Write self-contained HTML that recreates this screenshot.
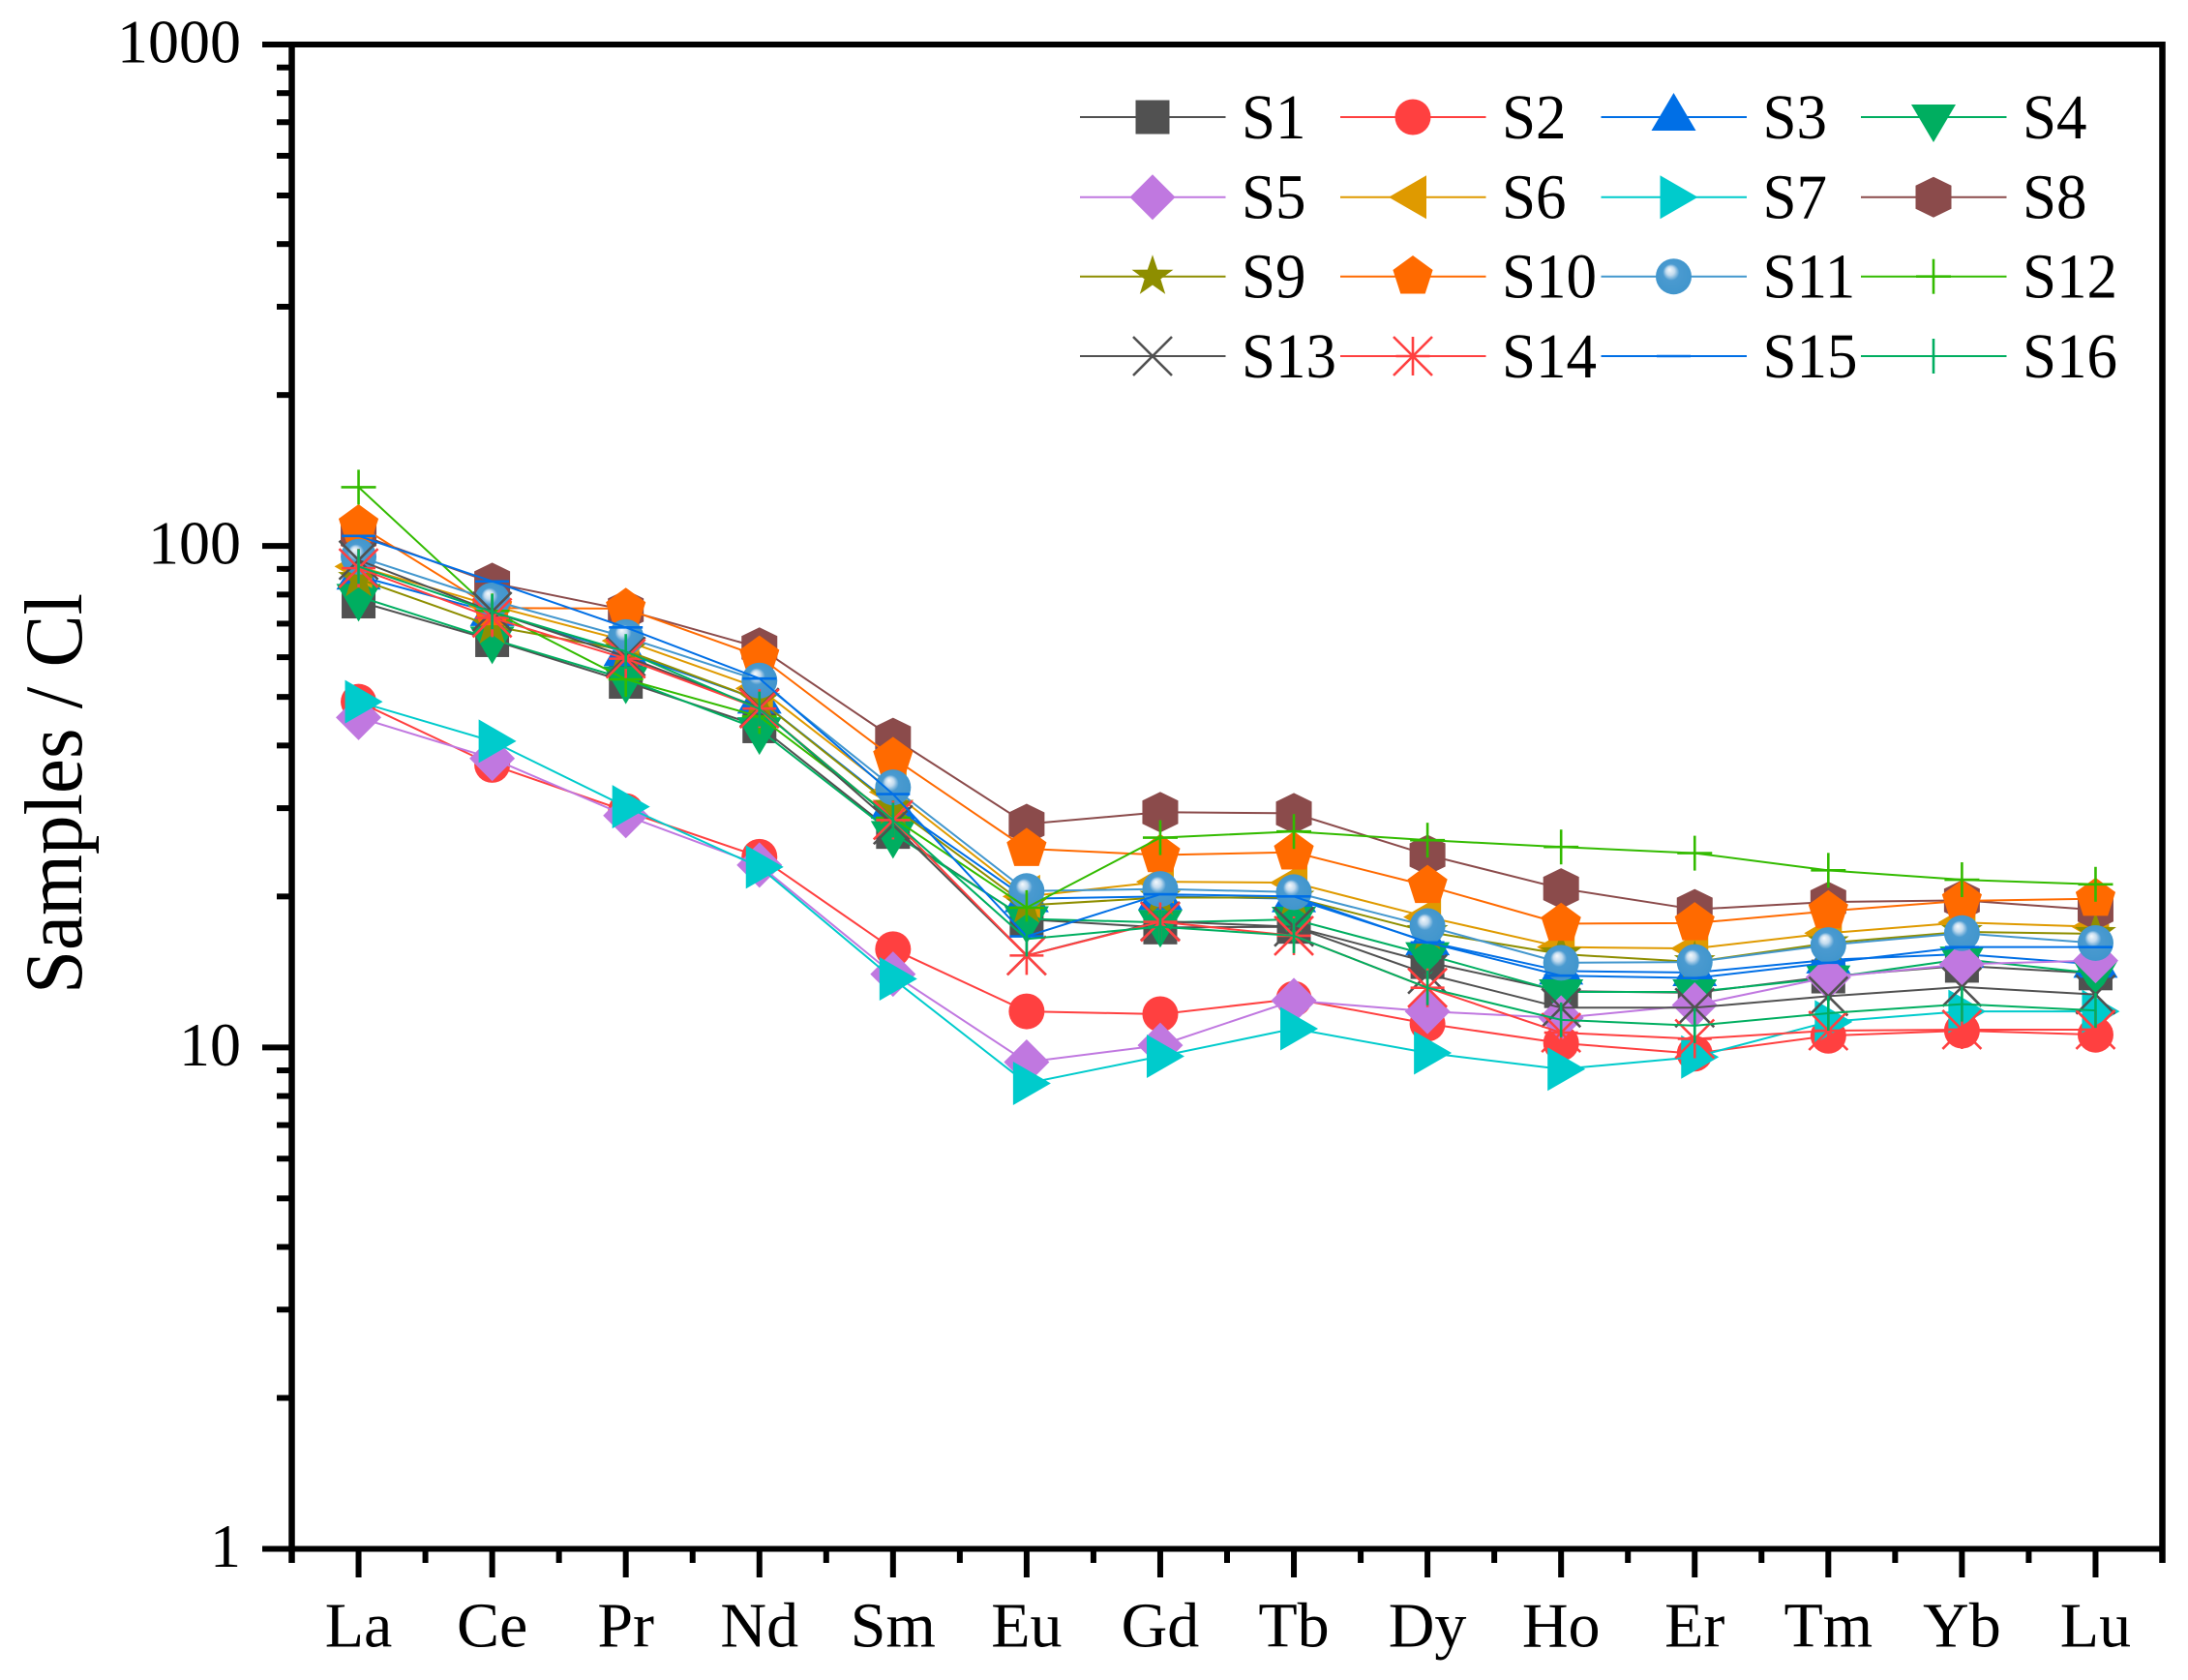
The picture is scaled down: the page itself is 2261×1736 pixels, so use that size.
<!DOCTYPE html>
<html lang="en">
<head>
<meta charset="utf-8">
<title>REE patterns</title>
<style>
html,body{margin:0;padding:0;background:#fff;}
svg{display:block;}
text{font-family:"Liberation Serif","Times New Roman",serif;fill:#000;}
</style>
</head>
<body>
<svg id="chart" xmlns="http://www.w3.org/2000/svg" width="2261" height="1736" viewBox="0 0 2261 1736">
<defs>
<radialGradient id="ball" cx="50%" cy="50%" r="55%" fx="38%" fy="30%">
<stop offset="0" stop-color="#f6fafd"/>
<stop offset="0.22" stop-color="#c3dbee"/>
<stop offset="0.42" stop-color="#4a9ad0"/>
<stop offset="1" stop-color="#4095cc"/>
</radialGradient>
</defs>
<rect x="0" y="0" width="2261" height="1736" fill="#fff"/>
<g id="axes"></g>
<g id="plot"></g>
<g id="legend"></g>
<text transform="translate(84,1027) rotate(-90)" font-size="85" textLength="414" lengthAdjust="spacingAndGlyphs">Samples / Cl</text>
</svg>
<script>
const categories = ["La","Ce","Pr","Nd","Sm","Eu","Gd","Tb","Dy","Ho","Er","Tm","Yb","Lu"];
const yMajorTicks = [1,10,100,1000];
const yMinorMultipliers = [2,3,4,5,6,7,8,9];
const seriesNames = ["S1","S2","S3","S4","S5","S6","S7","S8","S9","S10","S11","S12","S13","S14","S15","S16"];
const s1  = [77.5,64.9,53.6,43.7,26.9,18,17.35,17.4,14.8,12.95,12.85,13.85,14.55,14.05];
const s2  = [48.9,36.6,29.6,24,15.7,11.8,11.65,12.5,11.15,10.2,9.72,10.55,10.8,10.6];
const s3  = [87.1,73.7,61.3,49.3,30.4,19.8,20,19.8,16.25,14.2,14.1,14.95,15.35,14.65];
const s4  = [79.3,65.2,54.3,43,26.7,18.05,17.75,18,15.3,12.9,12.9,13.75,15,14.05];
const s5  = [45.5,37.7,29,23.1,14,9.35,10.1,12.4,11.8,11.45,12.15,13.8,14.65,14.9];
const s6  = [91,76,64.7,52,32.3,20,21.4,21.3,18.2,15.85,15.75,16.9,17.75,17.4];
const s7  = [48.9,40.8,30.2,22.9,13.7,8.48,9.6,10.9,9.75,9.05,9.57,11.25,11.8,11.8];
const s8  = [105.5,84.4,74.5,62.7,41.4,27.9,29.45,29.3,24.2,20.75,18.85,19.5,19.65,18.8];
const s9  = [86,69.2,61.9,49.3,30.2,19.2,19.9,19.9,17,15.35,14.8,16.15,17,16.85];
const s10 = [110,75.2,75,60.2,37.8,24.9,24.2,24.5,21,17.65,17.7,18.7,19.6,19.8];
const s11 = [95.2,77.9,65.8,53.9,33,20.5,20.7,20.4,17.45,14.75,14.8,16,16.9,16.15];
const s12 = [131,74.2,54.2,45.7,28.7,19,26.2,26.95,25.9,25.1,24.4,22.55,21.6,21.15];
const s13 = [93.7,74,60.2,47.6,27.8,15.25,17.85,17.4,14,12,12,12.65,13.2,12.75];
const s14 = [90.3,71.9,59.6,47.4,28.4,15.25,17.8,16.7,13.15,10.7,10.4,10.8,10.85,10.85];
const s15 = [104.7,85,68.8,54.4,32,16.65,20.2,20,16.2,13.9,13.75,14.75,15.85,15.85];
const s16 = [91,73.9,61.6,47.3,28.4,16.45,17.4,16.7,13.15,11.35,11.05,11.7,12.2,11.85];
const seriesValues = [s1,s2,s3,s4,s5,s6,s7,s8,s9,s10,s11,s12,s13,s14,s15,s16];
const seriesColors = ["#515151","#FF4040","#006FE6","#00AE60","#C078E0","#DF9A00","#00CBCC","#8B4B4B","#8E8E00","#FF6A00","#4397CE","#33BB00","#515151","#FF4040","#006FE6","#00AE60"];
const seriesMarkers = ["square","circle","up","down","diamond","left","right","hexagon","star","pentagon","ball","plus","cross","asterisk","dash","bar"];

const NS = "http://www.w3.org/2000/svg";
const plotLeft = 301.5, plotRight = 2234.5, plotTop = 46, plotBottom = 1600.5;
const decadePx = (plotBottom - plotTop) / 3;
const stepPx = (plotRight - plotLeft) / categories.length;
function xScale(i){ return plotLeft + (i + 0.5) * stepPx; }
function yScale(v){ return plotBottom - decadePx * Math.log10(v); }

function make(tag, attrs, parent){
  const el = document.createElementNS(NS, tag);
  for (const k in attrs) el.setAttribute(k, attrs[k]);
  parent.appendChild(el);
  return el;
}
const axes = document.getElementById("axes");
const plot = document.getElementById("plot");
const legend = document.getElementById("legend");

function axisLine(x1,y1,x2,y2,w,name){
  const el = make("line",{x1:x1,y1:y1,x2:x2,y2:y2,stroke:"#000","stroke-width":w},axes);
  
  
  return el;
}
axisLine(plotLeft,plotTop-3,plotLeft,1615,6.5,"y-axis-line");
axisLine(plotRight,plotTop-3,plotRight,1615,6.5,"right-axis-line");
axisLine(271,plotTop,plotRight+3,plotTop,6,"top-axis-line");
axisLine(271,plotBottom,plotRight+3,plotBottom,6,"x-axis-line");

yMajorTicks.forEach(function(t){
  const y = yScale(t);
  axisLine(271,y,plotLeft,y,6,"y-major-tick");
  const label = make("text",{x:249,y:y+18.5,"font-size":64,"text-anchor":"end"},axes);
  
  
  label.textContent = String(t);
});
yMajorTicks.slice(0,-1).forEach(function(t){
  yMinorMultipliers.forEach(function(m){
    const y = yScale(t*m);
    axisLine(286,y,plotLeft,y,6,"y-minor-tick");
  });
});
categories.forEach(function(c,i){
  const x = xScale(i);
  axisLine(x,plotBottom,x,1630,6,"x-major-tick");
  axisLine(x-stepPx/2,plotBottom,x-stepPx/2,1615,6,"x-minor-tick");
  const label = make("text",{x:x,y:1701.5,"font-size":66,"text-anchor":"middle"},axes);
  
  
  label.textContent = c;
});

function polyPts(cx,cy,pts){
  return pts.map(function(p){ return (cx+p[0]).toFixed(2)+","+(cy+p[1]).toFixed(2); }).join(" ");
}
function starPts(){
  const pts = [];
  for (let k=0;k<10;k++){
    const r = k%2===0 ? 22.5 : 8.8;
    const a = -Math.PI/2 + k*Math.PI/5;
    pts.push([r*Math.cos(a), r*Math.sin(a)]);
  }
  return pts;
}
const markerShapes = {
  up:[[0,-25],[23,14],[-23,14]],
  down:[[0,26],[23,-13],[-23,-13]],
  diamond:[[0,-23.5],[23.5,0],[0,23.5],[-23.5,0]],
  left:[[-25,0],[14,-22.5],[14,22.5]],
  right:[[25,0],[-14,-22.5],[-14,22.5]],
  hexagon:[[0,-21],[18.5,-12],[18.5,12],[0,21],[-18.5,12],[-18.5,-12]],
  pentagon:[[0,-21.7],[20.6,-6.7],[12.7,17.8],[-12.7,17.8],[-20.6,-6.7]],
  star:starPts()
};
const strokeMarks = {
  plus:[[-18,0,18,0],[0,-18,0,18]],
  cross:[[-20,-20,20,20],[-20,20,20,-20]],
  asterisk:[[-20,-20,20,20],[-20,20,20,-20],[0,-20,0,20],[-17.5,0,17.5,0]],
  dash:[[-17.5,0,17.5,0]],
  bar:[[0,-18,0,18]]
};
function drawMarker(kind,color,cx,cy,parent){
  if (kind==="square"){
    return make("rect",{x:cx-17.5,y:cy-17.5,width:35,height:35,fill:color},parent);
  }
  if (kind==="circle"){
    return make("circle",{cx:cx,cy:cy,r:18.5,fill:color},parent);
  }
  if (kind==="ball"){
    return make("circle",{cx:cx,cy:cy,r:18.5,fill:"url(#ball)"},parent);
  }
  if (markerShapes[kind]){
    return make("polygon",{points:polyPts(cx,cy,markerShapes[kind]),fill:color},parent);
  }
  const g = make("g",{stroke:color,"stroke-width":2.6},parent);
  strokeMarks[kind].forEach(function(s){
    make("line",{x1:cx+s[0],y1:cy+s[1],x2:cx+s[2],y2:cy+s[3]},g);
  });
  return g;
}

seriesValues.forEach(function(vals,si){
  const g = make("g",{},plot);
  
  
  const line = make("polyline",{
    points:vals.map(function(v,i){ return xScale(i).toFixed(2)+","+yScale(v).toFixed(2); }).join(" "),
    fill:"none",stroke:seriesColors[si],"stroke-width":2
  },g);
  
  
  vals.forEach(function(v,i){
    const m = drawMarker(seriesMarkers[si],seriesColors[si],xScale(i),yScale(v),g);
    
    
  });
});

const legendLineStarts = [1116,1385,1654.5,1923];
const legendRows = [121,203.7,285.7,368];
seriesNames.forEach(function(n,si){
  const col = si%4, row = Math.floor(si/4);
  const x0 = legendLineStarts[col], y0 = legendRows[row];
  const g = make("g",{},legend);
  
  
  const ln = make("line",{x1:x0,y1:y0,x2:x0+150.5,y2:y0,stroke:seriesColors[si],"stroke-width":2},g);
  
  
  const mk = drawMarker(seriesMarkers[si],seriesColors[si],x0+75,y0,g);
  
  
  const t = make("text",{transform:"translate("+(x0+167)+","+(y0+22)+") scale(0.955,1)","font-size":66},g);
  
  
  t.textContent = n;
});
</script>
</body>
</html>
